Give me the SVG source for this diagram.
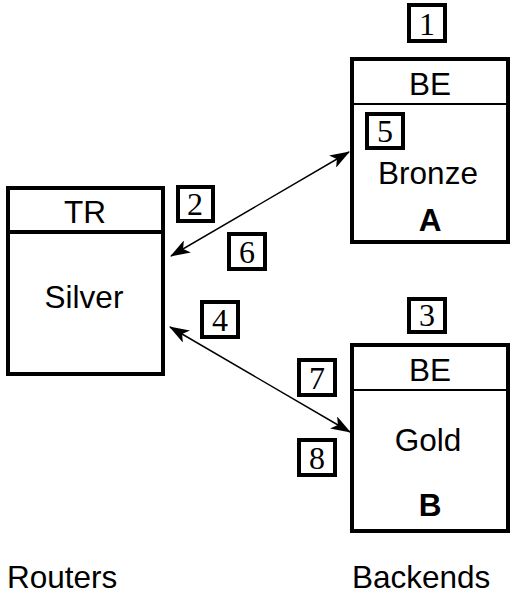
<svg xmlns="http://www.w3.org/2000/svg" width="517" height="606" viewBox="0 0 517 606">
<style>
.box{fill:#fff;stroke:#000;stroke-width:4}
.num{fill:none;stroke:#000;stroke-width:4}
.t{font-family:"Liberation Sans",Arial,sans-serif;font-size:31.5px;text-anchor:middle;fill:#000}
.b{font-weight:bold}
.n{font-family:"Liberation Serif","Times New Roman",serif;font-size:32px;text-anchor:middle;fill:#000}
.c{stroke:#000;stroke-width:1.5;fill:none;marker-start:url(#ah);marker-end:url(#ah)}
</style>
<defs>
<marker id="ah" viewBox="0 0 20 14" refX="19" refY="7" markerWidth="20" markerHeight="14" markerUnits="userSpaceOnUse" orient="auto-start-reverse">
<path d="M0,0 L20,7 L0,14 L5,7 Z" fill="#000"/>
</marker>
</defs>
<g id="connectors">
<line class="c" x1="171" y1="256" x2="349" y2="152"/>
<line class="c" x1="170" y1="327" x2="350" y2="432"/>
</g>
<g id="tr">
<rect class="box" x="8" y="188" width="155" height="186"/>
<line x1="8" y1="232" x2="163" y2="232" stroke="#000" stroke-width="4"/>
<text class="t" x="85" y="223">TR</text>
<text class="t" x="84" y="308">Silver</text>
</g>
<g id="beA">
<rect class="box" x="352" y="59" width="156" height="183"/>
<line x1="352" y1="104" x2="508" y2="104" stroke="#000" stroke-width="2"/>
<text class="t" x="430" y="95">BE</text>
<text class="t" x="428" y="184">Bronze</text>
<text class="t b" x="430" y="231">A</text>
</g>
<g id="beB">
<rect class="box" x="352" y="345" width="156" height="186"/>
<line x1="352" y1="390" x2="508" y2="390" stroke="#000" stroke-width="2"/>
<text class="t" x="430" y="381">BE</text>
<text class="t" x="428" y="451">Gold</text>
<text class="t b" x="430" y="516">B</text>
</g>
<g id="n1"><rect class="num" x="409" y="5" width="36" height="36"/><text class="n" x="427" y="35">1</text></g>
<g id="n2"><rect class="num" x="178" y="187" width="35" height="34"/><text class="n" x="195" y="215">2</text></g>
<g id="n3"><rect class="num" x="409" y="299" width="36" height="33"/><text class="n" x="427" y="326">3</text></g>
<g id="n4"><rect class="num" x="202" y="302" width="36" height="35"/><text class="n" x="220" y="331">4</text></g>
<g id="n5"><rect class="num" x="367" y="114" width="36" height="34"/><text class="n" x="385" y="142">5</text></g>
<g id="n6"><rect class="num" x="229" y="234" width="36" height="35"/><text class="n" x="247" y="263">6</text></g>
<g id="n7"><rect class="num" x="299" y="360" width="36" height="35"/><text class="n" x="317" y="389">7</text></g>
<g id="n8"><rect class="num" x="299" y="440" width="36" height="35"/><text class="n" x="317" y="469">8</text></g>
<text class="t" x="7" y="588" style="text-anchor:start">Routers</text>
<text class="t" x="352" y="588" style="text-anchor:start">Backends</text>
</svg>
